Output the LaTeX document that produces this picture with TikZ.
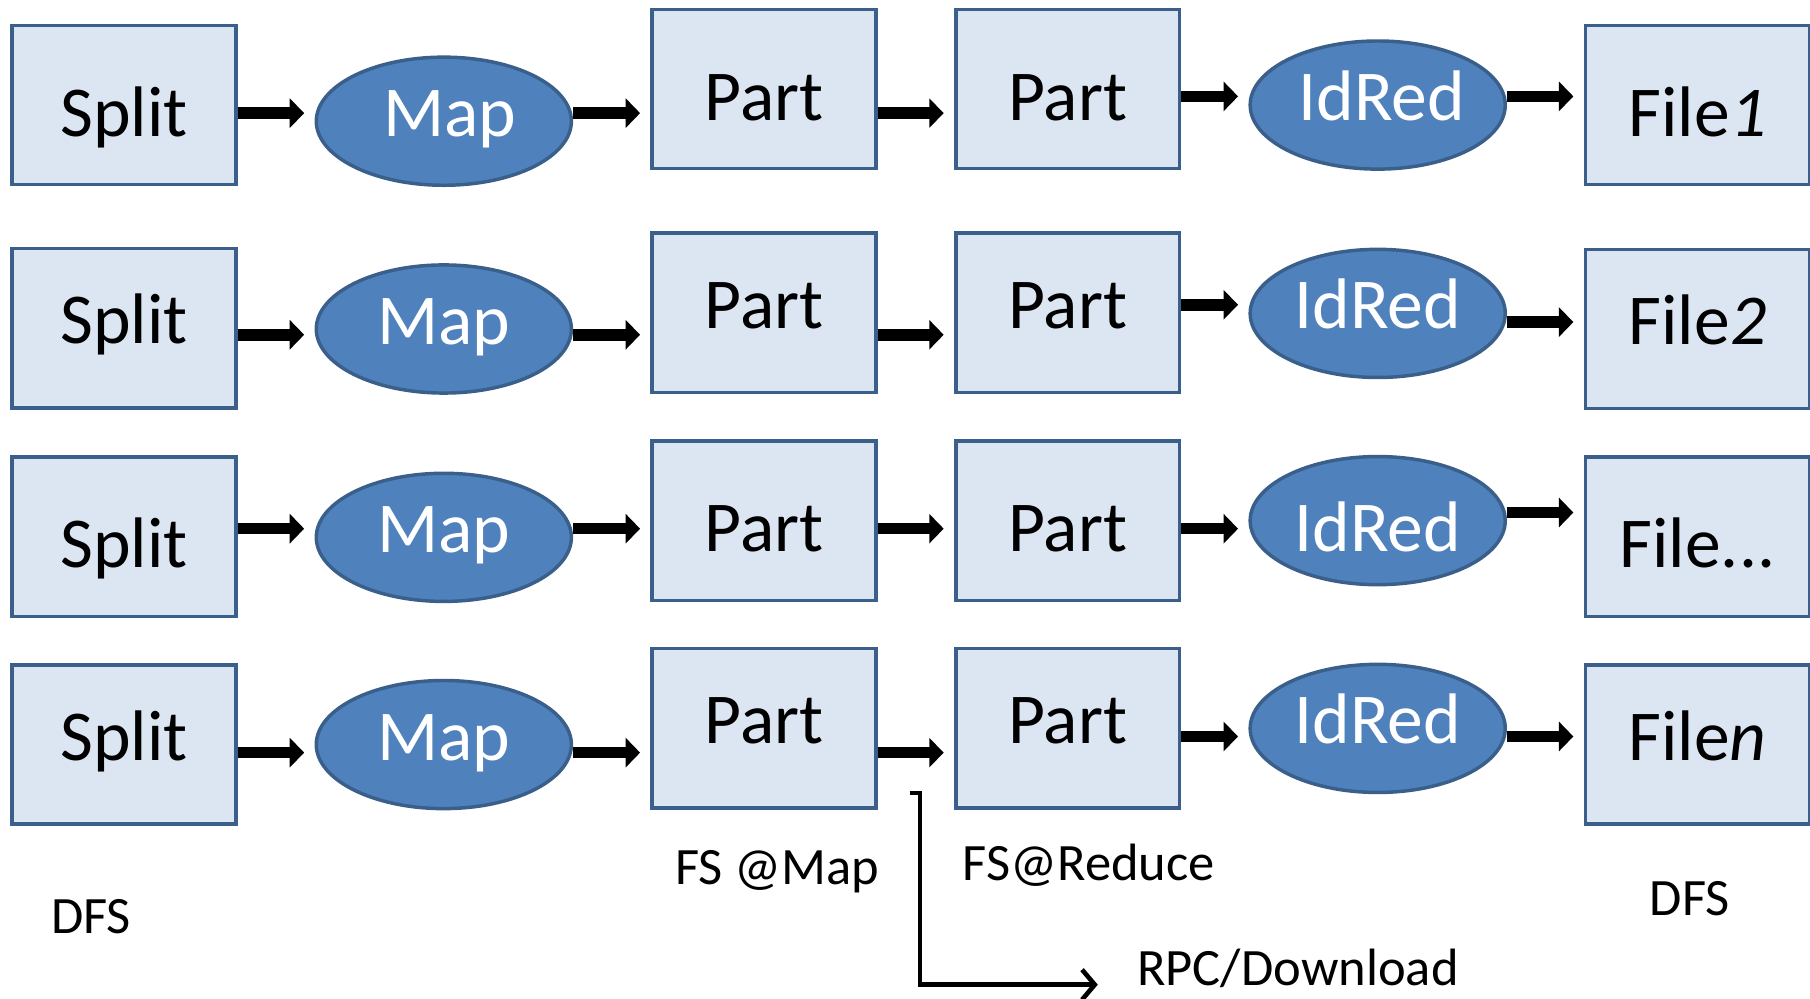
\documentclass[tikz,border=0pt]{standalone}
\usepackage{fontspec}
\setmainfont{Carlito}
\usetikzlibrary{arrows.meta,shapes.geometric}
\definecolor{boxfill}{HTML}{DCE6F2}
\definecolor{boxline}{HTML}{3A5F8B}
\definecolor{ellfill}{HTML}{4F81BD}
\begin{document}
\begin{tikzpicture}[x=1pt,y=-1pt,
  boxnode/.style={draw=boxline, fill=boxfill, line width=3pt, minimum width=194pt, minimum height=138pt, inner sep=0pt, font=\fontsize{62}{70}\selectfont},
  procnode/.style={ellipse, draw=boxline, fill=ellfill, line width=3pt, minimum width=221pt, minimum height=111pt, inner sep=0pt, text=white, font=\fontsize{62}{70}\selectfont},
  hi/.style={text height=40pt, text depth=13pt},
  lo/.style={text height=54pt, text depth=0pt},
  flow/.style={line width=10pt, -{Triangle[length=12.5pt,width=25pt]}, shorten >=9pt},
  lbl/.style={inner sep=0pt, anchor=base west, font=\fontsize{45.5}{50}\selectfont},
  rpcline/.style={line width=4pt, line join=miter, -{Straight Barb[length=11pt,width=26pt]}}]
\useasboundingbox (0,0) rectangle (1568,865);
% row 1
\node[boxnode,lo] (s1) at (107.5,91) {Split};
\node[procnode,hi] (m1) at (384.5,105) {\hspace{10pt}Map};
\node[boxnode,lo] (pm1) at (662,77) {Part};
\node[boxnode,lo] (pr1) at (925,77) {Part};
\node[procnode,hi] (r1) at (1193.5,91) {\hspace{7pt}IdRed};
\node[boxnode,lo] (f1) at (1470.5,91) {File\textit{1}};
% row 2
\node[boxnode,hi] (s2) at (107.5,284.5) {Split};
\node[procnode,hi] (m2) at (384.5,285) {Map\hspace{13pt}};
\node[boxnode,hi] (pm2) at (662,271) {Part};
\node[boxnode,hi] (pr2) at (925,271) {Part};
\node[procnode,hi] (r2) at (1193.5,271.5) {IdRed\hspace{10pt}};
\node[boxnode,hi] (f2) at (1470.5,285) {File\textit{2}};
% row 3
\node[boxnode,lo] (s3) at (107.5,465) {Split};
\node[procnode,hi] (m3) at (384.5,465.5) {Map\hspace{13pt}};
\node[boxnode,lo] (pm3) at (662,451) {Part};
\node[boxnode,lo] (pr3) at (925,451) {Part};
\node[procnode,lo] (r3) at (1193.5,451) {IdRed\hspace{10pt}};
\node[boxnode,lo] (f3) at (1470.5,465) {File...};
% row 4
\node[boxnode,hi] (s4) at (107.5,645) {Split};
\node[procnode,hi] (m4) at (384.5,645) {Map\hspace{13pt}};
\node[boxnode,hi] (pm4) at (662,631) {Part};
\node[boxnode,hi] (pr4) at (925,631) {Part};
\node[procnode,hi] (r4) at (1193.5,631) {IdRed\hspace{10pt}};
\node[boxnode,hi] (f4) at (1470.5,645) {File\textit{n}};
% arrows row 1
\draw[flow] (s1.east |- 0,98) -- (m1.west |- 0,98);
\draw[flow] (m1.east |- 0,98) -- (pm1.west |- 0,98);
\draw[flow] (pm1.east |- 0,98) -- (pr1.west |- 0,98);
\draw[flow] (pr1.east |- 0,83.5) -- (r1.west |- 0,83.5);
\draw[flow] (r1.east |- 0,83.5) -- (f1.west |- 0,83.5);
% arrows row 2
\draw[flow] (s2.east |- 0,290) -- (m2.west |- 0,290);
\draw[flow] (m2.east |- 0,290) -- (pm2.west |- 0,290);
\draw[flow] (pm2.east |- 0,290) -- (pr2.west |- 0,290);
\draw[flow] (pr2.east |- 0,264) -- (r2.west |- 0,264);
\draw[flow] (r2.east |- 0,279) -- (f2.west |- 0,279);
% arrows row 3
\draw[flow] (s3.east |- 0,458) -- (m3.west |- 0,458);
\draw[flow] (m3.east |- 0,458) -- (pm3.west |- 0,458);
\draw[flow] (pm3.east |- 0,458) -- (pr3.west |- 0,458);
\draw[flow] (pr3.east |- 0,458) -- (r3.west |- 0,458);
\draw[flow] (r3.east |- 0,444) -- (f3.west |- 0,444);
% arrows row 4
\draw[flow] (s4.east |- 0,652) -- (m4.west |- 0,652);
\draw[flow] (m4.east |- 0,652) -- (pm4.west |- 0,652);
\draw[flow] (pm4.east |- 0,652) -- (pr4.west |- 0,652);
\draw[flow] (pr4.east |- 0,638) -- (r4.west |- 0,638);
\draw[flow] (r4.east |- 0,638) -- (f4.west |- 0,638);
% labels
\node[lbl] (dfsL) at (44,809) {DFS};
\node[lbl] (fsmap) at (585,766) {FS @Map};
\node[lbl] (fsred) at (834,763) {FS@Reduce};
\node[lbl] (dfsR) at (1429,793) {DFS};
\node[lbl] (rpc) at (985,854) {RPC/Download};
% RPC connector
\coordinate (rpcA) at (788,687);
\coordinate (rpcB) at (797,687);
\coordinate (rpcC) at (797,853);
\coordinate (rpcD) at (951,853);
\draw[rpcline] (rpcA) -- (rpcB) -- (rpcC) -- (rpcD);
\end{tikzpicture}
\end{document}
